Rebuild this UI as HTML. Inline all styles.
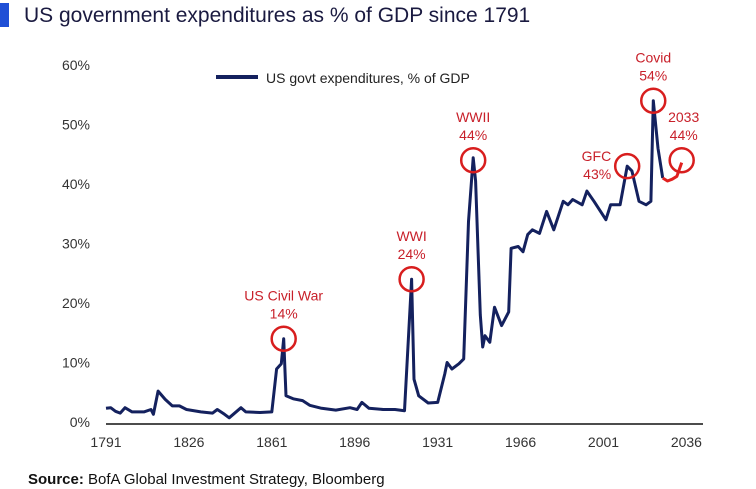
<!DOCTYPE html>
<html><head><meta charset="utf-8"><style>
html,body{margin:0;padding:0;background:#fff;width:756px;height:489px;overflow:hidden;font-family:"Liberation Sans",sans-serif}
</style></head><body>
<svg width="756" height="489" viewBox="0 0 756 489" id="chart" xmlns="http://www.w3.org/2000/svg">
<rect x="0" y="3" width="9" height="24" fill="#1f4fd6"/>
<text x="24" y="22" font-size="21" fill="#1a1a40">US government expenditures as % of GDP since 1791</text>
<g id="yaxis"></g>
<g id="xaxis"></g>
<line x1="216" y1="77" x2="258" y2="77" stroke="#14215e" stroke-width="4"/>
<text x="266" y="83" font-size="14" fill="#222">US govt expenditures, % of GDP</text>
<g id="marks"></g>
<text x="28" y="484" font-size="15" fill="#111"><tspan font-weight="bold">Source:</tspan> BofA Global Investment Strategy, Bloomberg</text>
</svg>
<script>
const years=[1791,1793,1795,1797,1799,1802,1807,1810,1811,1813,1816,1819,1822,1825,1831,1836,1838,1841,1843,1848,1850,1856,1861,1863,1865,1866,1867,1870,1874,1877,1882,1888,1894,1897,1899,1902,1908,1913,1917,1920,1921,1923,1927,1931,1934,1935,1937,1940,1942,1944,1946,1947,1949,1950,1951,1953,1955,1958,1961,1962,1965,1967,1969,1971,1974,1977,1980,1984,1986,1988,1992,1994,1997,2002,2004,2008,2011,2013,2016,2019,2021,2022,2024,2026];
const values=[2.3,2.4,1.8,1.5,2.4,1.7,1.7,2.1,1.3,5.2,3.8,2.7,2.7,2.1,1.7,1.5,2.1,1.3,0.7,2.4,1.7,1.6,1.7,8.9,9.8,14,4.4,3.9,3.6,2.8,2.3,2.0,2.4,2.1,3.3,2.3,2.1,2.1,1.9,24,7.2,4.4,3.2,3.3,8.1,10,8.9,9.8,10.6,33.7,44.4,40.5,18,12.6,14.5,13.4,19.3,16.2,18.5,29.2,29.5,28.6,31.5,32.3,31.7,35.4,32.3,37.1,36.5,37.4,36.5,38.8,37.1,34,36.5,36.5,43,42.2,37.1,36.5,37.1,54,46,41];
const fcYears=[2026,2028,2030,2032,2034];
const fcValues=[41,40.5,40.8,41.3,43.6];
const yTicks=[0,10,20,30,40,50,60];
const xTicks=[1791,1826,1861,1896,1931,1966,2001,2036];
const annLabels=["US Civil War","WWI","WWII","GFC","Covid","2033"];
const annYears=[1866,1920,1946,2011,2022,2034];
const annValues=[14,24,44,43,54,44];
const NS="http://www.w3.org/2000/svg";
const X=y=>106+(y-1791)*(597/252);
const Y=v=>422-v*5.95;
function mk(t,a,p){const e=document.createElementNS(NS,t);for(const k in a)e.setAttribute(k,a[k]);p.appendChild(e);return e;}
const ya=document.getElementById('yaxis'),xa=document.getElementById('xaxis'),mg=document.getElementById('marks');
yTicks.forEach(v=>{const t=mk('text',{x:90,y:Y(v)+5,'font-size':14,fill:'#333','text-anchor':'end'},ya);t.textContent=v+'%';

});
const ax=mk('line',{x1:106,x2:703,y1:424,y2:424,stroke:'#111','stroke-width':1.5},xa);


xTicks.forEach(v=>{const t=mk('text',{x:X(v),y:447,'font-size':14,fill:'#333','text-anchor':'middle'},xa);t.textContent=v;

});
const p=mk('path',{d:years.map((y,i)=>(i?'L':'M')+X(y).toFixed(1)+' '+Y(values[i]).toFixed(1)).join(''),fill:'none',stroke:'#14215e','stroke-width':3,'stroke-linejoin':'round'},mg);


const f=mk('path',{d:fcYears.map((y,i)=>(i?'L':'M')+X(y).toFixed(1)+' '+Y(fcValues[i]).toFixed(1)).join(''),fill:'none',stroke:'#e0201f','stroke-width':3,'stroke-linejoin':'round'},mg);


annLabels.forEach((l,i)=>{const cx=X(annYears[i]),cy=Y(annValues[i]);
const c=mk('circle',{cx:cx,cy:cy,r:12,fill:'none',stroke:'#d81e1e','stroke-width':2.5},mg);


let tx=cx,ty=cy-38,anchor='middle';
if(l==='GFC'){tx=cx-16;ty=cy-5;anchor='end';}
if(l==='2033'){tx=cx+2;ty=cy-38;}
const t1=mk('text',{x:tx,y:ty,'font-size':14,fill:'#c8202a','text-anchor':anchor},mg);t1.textContent=l;


const t2=mk('text',{x:tx,y:ty+18,'font-size':14,fill:'#c8202a','text-anchor':anchor},mg);t2.textContent=annValues[i]+'%';

});
</script>
</body></html>
